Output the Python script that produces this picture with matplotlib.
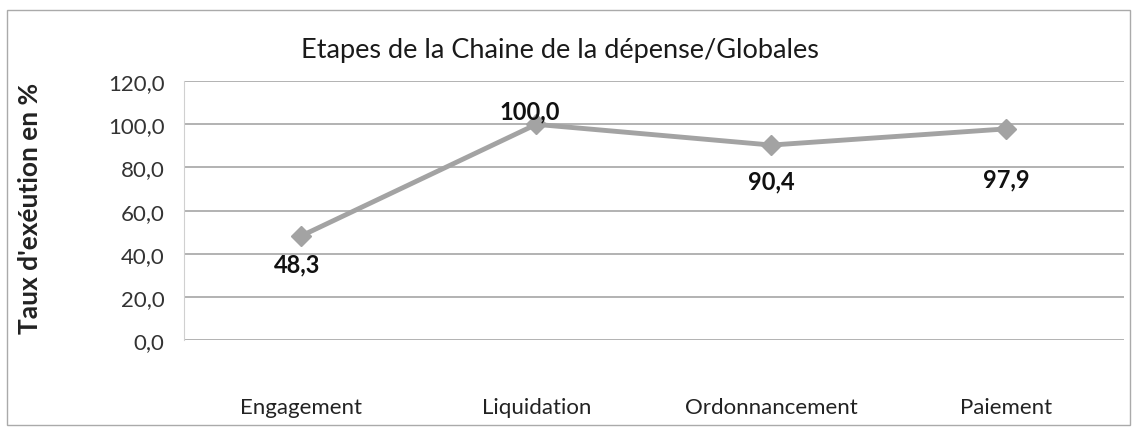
import matplotlib
matplotlib.use("Agg")
import matplotlib.pyplot as plt
from matplotlib.patches import Rectangle

categories = ["Engagement", "Liquidation", "Ordonnancement", "Paiement"]
values = [48.3, 100.0, 90.4, 97.9]
labels = ["48,3", "100,0", "90,4", "97,9"]
yticks = [0, 20, 40, 60, 80, 100, 120]
ytick_labels = ["0,0", "20,0", "40,0", "60,0", "80,0", "100,0", "120,0"]

plt.rcParams['font.family'] = ['Lato', 'DejaVu Sans']

fig = plt.figure(figsize=(11.35, 4.35), dpi=100)
fig.patch.set_facecolor("white")
ax = fig.add_axes([0.162, 0.216, 0.828, 0.595])

x = list(range(len(categories)))
ax.plot(x, values, color="#a3a3a3", lw=3.5, marker="D", ms=10,
        markerfacecolor="#a3a3a3", markeredgecolor="#a3a3a3", zorder=3)

# label placement offsets (category units, value units)
label_dx = [-0.02, -0.03, 0.0, 0.0]
label_dy = [-12.8, 6.2, -16.8, -23.0]
for xi, v, lab, dx, dy in zip(x, values, labels, label_dx, label_dy):
    ax.text(xi + dx, v + dy, lab, ha="center", va="center",
            fontsize=17, fontweight="bold", color="#111111", zorder=4)

ax.set_xlim(-0.5, 3.5)
ax.set_ylim(0, 120)
ax.set_yticks(yticks)
ax.set_yticklabels(ytick_labels, fontsize=16, color="#333333")
ax.set_xticks(x)
ax.set_xticklabels(categories, fontsize=16, color="#222222")
ax.tick_params(axis="x", length=0, pad=41)
ax.tick_params(axis="y", length=0, pad=14)
ax.yaxis.grid(True, color="#9e9e9e", lw=1.1)
ax.set_axisbelow(True)
for s in ["top", "right", "bottom"]:
    ax.spines[s].set_visible(False)
ax.spines["left"].set_color("#d0d0d0")

fig.text(30 / 1135, 0.52, "Taux d'exéution en %", rotation=90,
         ha="center", va="center", fontsize=19, fontweight="bold", color="#222222")
fig.text(0.493, 0.885, "Etapes de la Chaine de la dépense/Globales",
         ha="center", va="center", fontsize=19.5, color="#1a1a1a")

fig.add_artist(Rectangle((0.006, 0.02), 0.99, 0.955, transform=fig.transFigure,
                         fill=False, ec="#aaaaaa", lw=1))

fig.savefig("out.png", dpi=100, facecolor="white")
